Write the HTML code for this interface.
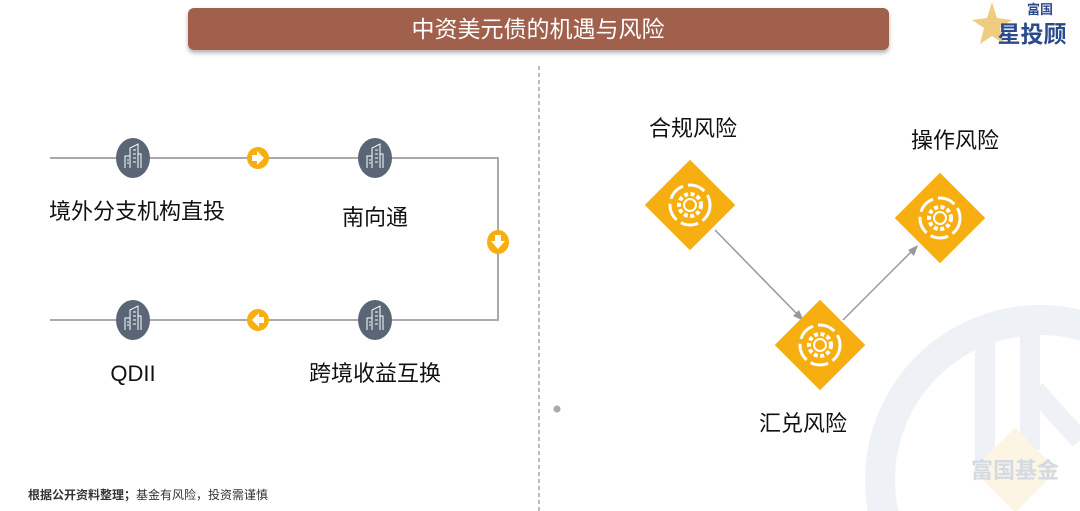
<!DOCTYPE html>
<html><head><meta charset="utf-8"><style>
html,body{margin:0;width:1080px;height:511px;overflow:hidden;background:#fff;font-family:"Liberation Sans","Noto Sans CJK SC",sans-serif;}
svg{display:block}
</style></head><body>
<svg width="1080" height="511" viewBox="0 0 1080 511" xmlns="http://www.w3.org/2000/svg" style="position:absolute;left:0;top:0">
<defs>
<filter id="sh" x="-5%" y="-30%" width="110%" height="170%"><feDropShadow dx="0" dy="3" stdDeviation="2" flood-color="#000" flood-opacity="0.3"/></filter>
<g id="bld"><ellipse cx="0" cy="0" rx="17" ry="20" fill="#5a6675"/>
<path d="M-8 10 V-2 H-3 V-10 L5 -14 V10 M-3 10 V-2 M-6 2 H-4 M-6 5 H-4 M0 -8 H3 M0 -4 H3 M0 0 H3 M0 4 H3 M8 10 V-4 H5" stroke="#fff" stroke-width="1" fill="none"/></g>
<g id="dia"><rect x="-32" y="-32" width="64" height="64" fill="#f6ae10" transform="rotate(45)"/>
<circle r="20" fill="none" stroke="#fff" stroke-width="3" stroke-dasharray="18 5"/>
<circle r="11" fill="none" stroke="#fff" stroke-width="4" stroke-dasharray="4 2.5"/>
<circle r="6" fill="none" stroke="#fff" stroke-width="2"/></g>
</defs>
<!-- watermark -->
<circle cx="1040" cy="480" r="160" fill="none" stroke="#eef2f7" stroke-width="30"/>
<path d="M985 320 V470 M1030 310 V450 M1035 390 L1080 440" stroke="#eef2f7" stroke-width="20" fill="none"/>
<rect x="985" y="440" width="60" height="60" fill="#fcf5e3" transform="rotate(45 1015 470)"/>
<text x="1015" y="478" font-size="22" fill="#d3dae3" text-anchor="middle" font-weight="bold">富国基金</text>
<!-- title -->
<rect x="188" y="8" width="701" height="42" rx="6" fill="#a0604c" filter="url(#sh)"/>
<text x="538" y="37" font-size="23" fill="#fff" text-anchor="middle">中资美元债的机遇与风险</text>
<path d="M992 2 L997 18 L1012 20 L1000 28 L1004 44 L992 36 L980 44 L984 28 L972 20 L987 18Z" fill="#e8b84a" opacity="0.7"/>
<text x="1040" y="14" font-size="13" fill="#2a4a8c" font-weight="bold" text-anchor="middle">富国</text>
<text x="1032" y="42" font-size="23" fill="#2a4a8c" font-weight="bold" text-anchor="middle">星投顾</text>
<!-- divider -->
<line x1="539" y1="66" x2="539" y2="511" stroke="#bbb" stroke-width="2" stroke-dasharray="4 3"/>
<circle cx="557" cy="409" r="3.5" fill="#aaa"/>
<!-- left flow -->
<path d="M50 158 H498 V320 H50" stroke="#aaa" stroke-width="2" fill="none"/>
<use href="#bld" x="133" y="158"/><use href="#bld" x="375" y="158"/>
<use href="#bld" x="133" y="320"/><use href="#bld" x="375" y="320"/>
<circle cx="258" cy="158" r="11" fill="#f6ae10"/><path d="M252 155 H257 V151 L264 158 L257 165 V161 H252Z" fill="#fff"/>
<circle cx="258" cy="320" r="11" fill="#f6ae10"/><path d="M264 317 H259 V313 L252 320 L259 327 V323 H264Z" fill="#fff"/>
<ellipse cx="498" cy="242" rx="11" ry="12" fill="#f6ae10"/><path d="M495 235 V241 H491 L498 249 L505 241 H501 V235Z" fill="#fff"/>
<g font-size="22" fill="#111" text-anchor="middle">
<text x="137" y="219">境外分支机构直投</text>
<text x="375" y="225">南向通</text>
<text x="133" y="381">QDII</text>
<text x="375" y="381">跨境收益互换</text>
<text x="693" y="136">合规风险</text>
<text x="955" y="148">操作风险</text>
<text x="803" y="431">汇兑风险</text>
</g>
<text x="28" y="499" font-size="12" fill="#333" font-weight="bold">根据公开资料整理；<tspan font-weight="normal">基金有风险，投资需谨慎</tspan></text>
<!-- right -->
<path d="M715 230 L799 316 M843 320 L914 249" stroke="#999" stroke-width="1.5" fill="none"/>
<path d="M804 321 L793 316 L799 310Z M918 245 L914 256 L908 250Z" fill="#999"/>
<use href="#dia" x="690" y="205"/>
<use href="#dia" x="940" y="218"/>
<use href="#dia" x="820" y="345"/>
</svg>
</body></html>
